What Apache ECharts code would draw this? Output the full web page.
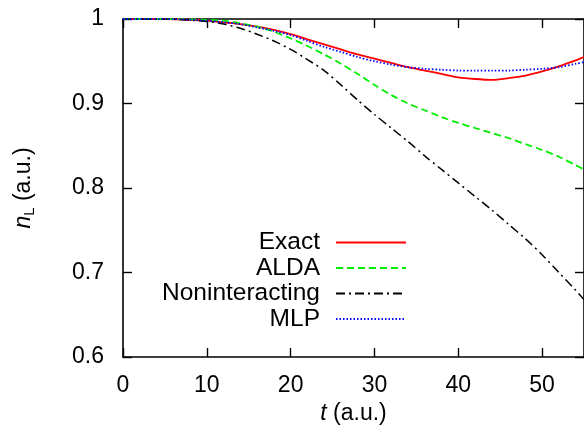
<!DOCTYPE html>
<html>
<head>
<meta charset="utf-8">
<script src="https://cdn.jsdelivr.net/npm/echarts@6/dist/echarts.min.js"></script>
<style>html,body{margin:0;padding:0;background:#fff;}#c{width:584px;height:430px;}</style>
</head>
<body>
<div id="c"></div>
<script>
var tValues = [0,5,10,12,14,16,18,20,22,24,26,28,30,32,34,36,38,40,42,44,46,48,50,52,54,55];
var nExact = [1.000,1.000,0.998,0.996,0.994,0.991,0.987,0.982,0.976,0.970,0.964,0.958,0.953,0.948,0.943,0.939,0.935,0.931,0.929,0.928,0.930,0.933,0.938,0.944,0.951,0.955];
var nALDA = [1.000,1.000,0.999,0.998,0.995,0.991,0.985,0.977,0.968,0.958,0.947,0.935,0.922,0.910,0.900,0.892,0.884,0.877,0.871,0.865,0.859,0.852,0.845,0.837,0.827,0.822];
var nNonint = [1.000,1.000,0.997,0.994,0.989,0.982,0.974,0.964,0.952,0.939,0.922,0.904,0.887,0.871,0.855,0.838,0.822,0.806,0.790,0.774,0.757,0.740,0.721,0.700,0.679,0.668];
var nMLP = [1.000,1.000,0.998,0.996,0.994,0.990,0.986,0.981,0.974,0.967,0.961,0.955,0.950,0.946,0.943,0.941,0.940,0.939,0.939,0.939,0.939,0.940,0.941,0.943,0.947,0.949];
var seriesNames = ['Exact','ALDA','Noninteracting','MLP'];
var xTicks = {min:0, max:55, interval:10};
var yTicks = {min:0.6, max:1, interval:0.1};

function pairs(ys){ return tValues.map(function(t,i){ return [t, ys[i]]; }); }

var FONT = 'Liberation Sans';
var TICK_FS = 23, NAME_FS = 23, LEG_FS = 24.5;
var chart = echarts.init(document.getElementById('c'), null, {renderer:'canvas'});
var axisLineStyle = {color:'#000', width:1.6};
function xAxisCfg(pos, showLabels){
  return {
    type:'value', position:pos, min:xTicks.min, max:xTicks.max, interval:xTicks.interval,
    axisLine:{show:true, onZero:false, lineStyle:axisLineStyle},
    axisTick:{show:true, inside:true, length:9, lineStyle:{color:'#000', width:1.4}},
    splitLine:{show:false},
    axisLabel:{show:showLabels, showMaxLabel:false, margin:17, color:'#000', fontSize:TICK_FS, fontFamily:FONT},
    name: showLabels ? '{it|t} (a.u.)' : '',
    nameLocation:'middle', nameGap:43,
    nameTextStyle:{color:'#000', fontSize:NAME_FS, fontFamily:FONT, rich:{it:{fontStyle:'italic', fontSize:NAME_FS, fontFamily:FONT, color:'#000'}}}
  };
}
function yAxisCfg(pos, showLabels){
  return {
    type:'value', position:pos, min:yTicks.min, max:yTicks.max, interval:yTicks.interval,
    axisLine:{show:true, onZero:false, lineStyle:axisLineStyle},
    axisTick:{show:true, inside:true, length:9, lineStyle:{color:'#000', width:1.4}},
    splitLine:{show:false},
    axisLabel:{show:showLabels, margin:19, color:'#000', fontSize:TICK_FS, fontFamily:FONT,
      formatter:function(v){ return Math.abs(v-1)<1e-9 ? '1' : v.toFixed(1); }},
    name: showLabels ? '{it|n}{sub|L} (a.u.)' : '',
    nameLocation:'middle', nameGap:86, nameRotate:90,
    nameTextStyle:{color:'#000', fontSize:NAME_FS, fontFamily:FONT, rich:{
      it:{fontStyle:'italic', fontSize:NAME_FS, fontFamily:FONT, color:'#000'},
      sub:{fontSize:15, fontFamily:FONT, color:'#000', padding:[11,0,0,0]}
    }}
  };
}
var option = {
  animation:false,
  backgroundColor:'#fff',
  grid:{left:123, top:19, width:466, height:338, containLabel:false},
  xAxis:[xAxisCfg('bottom', true), xAxisCfg('top', false)],
  yAxis:[yAxisCfg('left', true), yAxisCfg('right', false)],
  legend:{
    orient:'vertical', left:150, top:230, align:'right',
    itemWidth:70, itemHeight:14, itemGap:0.5, padding:0,
    itemStyle:{opacity:0},
    textStyle:{fontSize:LEG_FS, fontFamily:FONT, color:'#000', width:170, align:'right', lineHeight:24.5, padding:[0,11,0,0]},
    data:seriesNames
  },
  series:[
    {name:seriesNames[0], type:'line', data:pairs(nExact), symbol:'none', smooth:0.3,
      lineStyle:{color:'#ff0000', width:1.8, type:'solid'}, itemStyle:{color:'#ff0000'}},
    {name:seriesNames[1], type:'line', data:pairs(nALDA), symbol:'none', smooth:0.3,
      lineStyle:{color:'#00ee00', width:1.8, type:[7,4]}, itemStyle:{color:'#00ee00'}},
    {name:seriesNames[2], type:'line', data:pairs(nNonint), symbol:'none', smooth:0.3,
      lineStyle:{color:'#000', width:1.5, type:[9,4,2,4]}, itemStyle:{color:'#000'}},
    {name:seriesNames[3], type:'line', data:pairs(nMLP), symbol:'none', smooth:0.3,
      lineStyle:{color:'#0000ff', width:1.8, type:[1.5,2]}, itemStyle:{color:'#0000ff'}}
  ]
};
chart.setOption(option);
</script>
</body>
</html>
